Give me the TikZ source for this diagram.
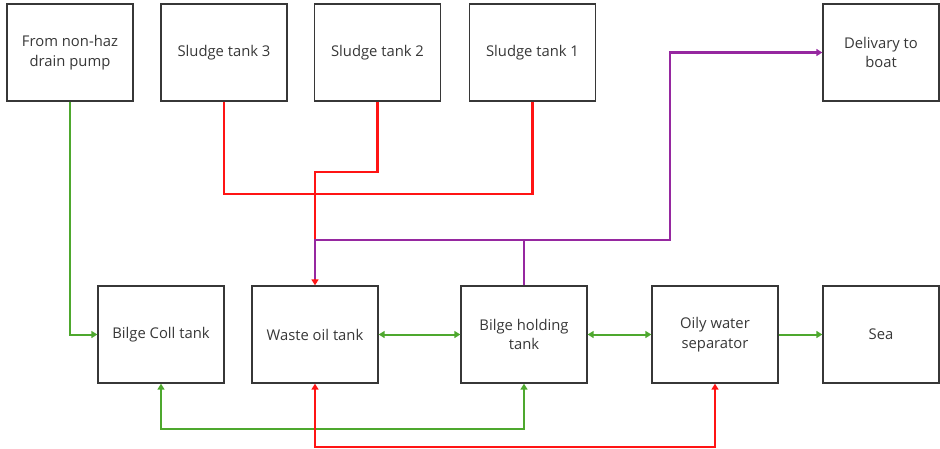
\documentclass[tikz,border=0pt]{standalone}
\usepackage{fontspec}
\setmainfont{Open Sans}
\usetikzlibrary{positioning,arrows.meta}
\definecolor{pipegreen}{RGB}{78,168,46}
\definecolor{pipered}{RGB}{255,20,20}
\definecolor{pipepurple}{RGB}{150,40,160}
\definecolor{boxgray}{RGB}{55,55,55}

\begin{document}
\begin{tikzpicture}[
  x=1pt, y=-1pt,
  font=\fontsize{14.8}{19.5}\selectfont,
  tank/.style={draw=boxgray, line width=1.3pt, align=center, text=boxgray, minimum width=126pt, minimum height=97pt, inner sep=2pt},
  edgebox/.style={tank, minimum width=116pt},
  greenpipe/.style={draw=pipegreen, line width=2pt},
  redpipe/.style={draw=pipered, line width=2.2pt},
  purplepipe/.style={draw=pipepurple, line width=2.2pt},
  tip/.tip={Triangle[length=6pt, width=7pt]}
]
  \useasboundingbox (0,0) rectangle (940,448);
  % top row
  \node[tank] (pump) at (70,52.5) {From non-haz\\drain pump};
  \node[tank] (st3) at (224,52.5) {Sludge tank 3};
  \node[tank] (st2) at (377.5,52.5) {Sludge tank 2};
  \node[tank] (st1) at (532.5,52.5) {Sludge tank 1};
  \node[edgebox] (boat) at (881,52.5) {Delivary to\\boat};
  % bottom row
  \node[tank] (coll) at (161,334.5) {Bilge Coll tank};
  \node[tank] (waste) at (315,334.5) {Waste oil tank};
  \node[tank] (hold) at (524,334.5) {Bilge holding\\tank};
  \node[tank] (ows) at (715,334.5) {Oily water\\separator};
  \node[edgebox] (sea) at (881,334.5) {Sea};
  \coordinate (bus) at (0,240);
  \coordinate (riser) at (670,240);

  % sludge lines
  \draw[redpipe] (st3.south) -- ++(0,92) -| (st1.south);
  \draw[redpipe, -{tip}] (st2.south) -- ++(0,70) -| (waste.north);
  % delivery line
  \draw[purplepipe, shorten >=6pt] (hold.north) -- (hold.north |- bus) -| (waste.north);
  \draw[purplepipe, -{tip}] (hold.north |- bus) -- (riser) |- (boat.west);
  % bilge lines
  \draw[greenpipe, -{tip}] (pump.south) |- (coll.west);
  \draw[greenpipe, {tip}-{tip}] (waste.east) -- (hold.west);
  \draw[greenpipe, {tip}-{tip}] (hold.east) -- (ows.west);
  \draw[greenpipe, -{tip}] (ows.east) -- (sea.west);
  \draw[greenpipe, {tip}-{tip}] (coll.south) -- ++(0,45) -| (hold.south);
  \draw[redpipe, {tip}-{tip}] (waste.south) -- ++(0,63) -| (ows.south);
\end{tikzpicture}
\end{document}
